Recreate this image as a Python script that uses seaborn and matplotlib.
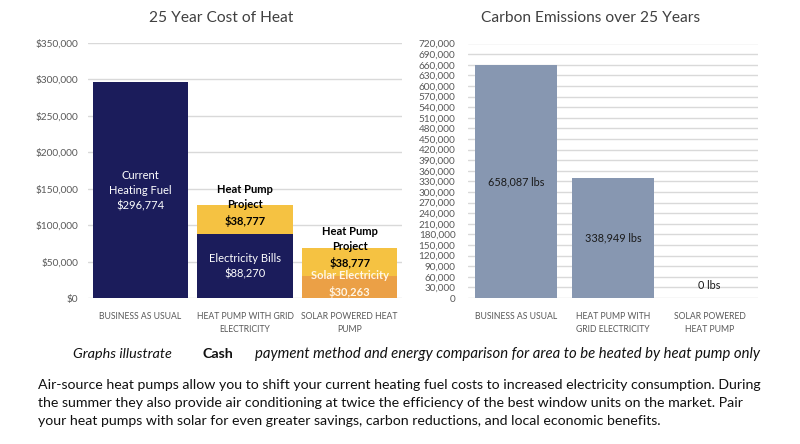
import matplotlib
matplotlib.use("Agg")
import matplotlib.pyplot as plt
import seaborn as sns
import pandas as pd
from matplotlib.ticker import FuncFormatter, MultipleLocator

sns.set_theme(style="white")
plt.rcParams['font.family'] = ['Lato', 'DejaVu Sans']

# ---- data ----
categories = ["Business as Usual", "Heat Pump with Grid Electricity", "Solar Powered Heat Pump"]
cost_labels_left = ["BUSINESS AS USUAL", "HEAT PUMP WITH GRID\nELECTRICITY", "SOLAR POWERED HEAT\nPUMP"]
cost_labels_right = ["BUSINESS AS USUAL", "HEAT PUMP WITH\nGRID ELECTRICITY", "SOLAR POWERED\nHEAT PUMP"]
heating_fuel = [296774, 0, 0]
electricity = [0, 88270, 30263]
heat_pump_project = [0, 38777, 38777]
emissions = [658087, 338949, 0]

NAVY = "#1B1C5B"
YELLOW = "#F5C242"
ORANGE = "#EBA046"
GRAY = "#8797B1"
GRID = "#D9D9D9"
TICK = "#595959"

fig = plt.figure(figsize=(8, 4.44), dpi=100)
fig.patch.set_facecolor("white")

H = 444.0
def ax_rect(x0, x1, ytop, ybot):
    return [x0 / 800, 1 - ybot / H, (x1 - x0) / 800, (ybot - ytop) / H]

# ---- left chart ----
axL = fig.add_axes(ax_rect(88, 402, 43, 298))
totals = [a + b + c for a, b, c in zip(heating_fuel, electricity, heat_pump_project)]
base = [a + b for a, b in zip(heating_fuel, electricity)]
dfL = pd.DataFrame({"cat": categories, "total": totals, "base": base})
sns.barplot(data=dfL, x="cat", y="total", hue="cat", palette=[NAVY, YELLOW, YELLOW],
            width=0.91, legend=False, ax=axL, saturation=1, linewidth=0)
sns.barplot(data=dfL, x="cat", y="base", hue="cat", palette=[NAVY, NAVY, ORANGE],
            width=0.91, legend=False, ax=axL, saturation=1, linewidth=0)
axL.set_ylim(0, 350000)
axL.yaxis.set_major_locator(MultipleLocator(50000))
axL.yaxis.set_major_formatter(FuncFormatter(lambda v, p: f"${v:,.0f}"))
axL.grid(axis="y", color=GRID, lw=1)
axL.set_axisbelow(True)
axL.set_xlabel(""); axL.set_ylabel("")
axL.set_xticks(range(3))
axL.set_xticklabels(cost_labels_left, fontsize=6.2, color=TICK, linespacing=1.6)
axL.tick_params(axis="y", labelsize=7.3, labelcolor=TICK, length=0, pad=7)
axL.tick_params(axis="x", length=0, pad=10)
for s in axL.spines.values():
    s.set_visible(False)
axL.set_xlim(-0.5, 2.5)
fig.text(221 / 800, 1 - 18 / H, "25 Year Cost of Heat", fontsize=11.2, color="#404040",
         ha="center", va="center")

axL.text(0, 147000, f"Current\nHeating Fuel\n${heating_fuel[0]:,}", ha="center", va="center",
         color="white", fontsize=8, linespacing=1.45)
axL.text(1, totals[1], f"Heat Pump\nProject\n${heat_pump_project[1]:,}", ha="center", va="center",
         color="black", fontsize=8, fontweight="bold", linespacing=1.45)
axL.text(1, electricity[1] / 2, f"Electricity Bills\n${electricity[1]:,}", ha="center", va="center",
         color="white", fontsize=8, linespacing=1.45)
axL.text(2, totals[2], f"Heat Pump\nProject\n${heat_pump_project[2]:,}", ha="center", va="center",
         color="black", fontsize=8, fontweight="bold", linespacing=1.45)
axL.text(2, 19000, f"Solar Electricity\n${electricity[2]:,}", ha="center", va="center",
         color="#FFF6E6", fontsize=8, fontweight="bold", linespacing=1.45)

# ---- right chart ----
axR = fig.add_axes(ax_rect(468, 758, 43.5, 298))
dfR = pd.DataFrame({"cat": categories, "em": emissions})
sns.barplot(data=dfR, x="cat", y="em", color=GRAY, width=0.85, ax=axR, saturation=1, linewidth=0)
axR.set_ylim(0, 720000)
axR.yaxis.set_major_locator(MultipleLocator(30000))
axR.yaxis.set_major_formatter(FuncFormatter(lambda v, p: f"{v:,.0f}"))
axR.grid(axis="y", color=GRID, lw=1)
axR.set_axisbelow(True)
axR.set_xlabel(""); axR.set_ylabel("")
axR.set_xticks(range(3))
axR.set_xticklabels(cost_labels_right, fontsize=6.2, color=TICK, linespacing=1.6)
axR.tick_params(axis="y", labelsize=7.2, labelcolor=TICK, length=0, pad=9)
axR.tick_params(axis="x", length=0, pad=10)
for s in axR.spines.values():
    s.set_visible(False)
axR.set_xlim(-0.5, 2.5)
fig.text(591 / 800, 1 - 18 / H, "Carbon Emissions over 25 Years", fontsize=11.2, color="#404040",
         ha="center", va="center")

for i, v in enumerate(emissions):
    y = v / 2 if v > 0 else 34000
    axR.text(i, y, f"{v:,} lbs", ha="center", va="center", color="#1a1a1a", fontsize=7.8)

# ---- footer text ----
fig.text(73 / 800, 1 - 354 / H, "Graphs illustrate", fontsize=10.4, style="italic",
         ha="left", va="center", color="#111111")
fig.text(203 / 800, 1 - 354 / H, "Cash", fontsize=10.2, fontweight="bold",
         ha="left", va="center", color="#111111")
fig.text(760 / 800, 1 - 354 / H,
         "payment method and energy comparison for area to be heated by heat pump only",
         fontsize=10.75, style="italic", ha="right", va="center", color="#111111")

para = ["Air-source heat pumps allow you to shift your current heating fuel costs to increased electricity consumption. During",
        "the summer they also provide air conditioning at twice the efficiency of the best window units on the market. Pair",
        "your heat pumps with solar for even greater savings, carbon reductions, and local economic benefits."]
for k, line in enumerate(para):
    fig.text(38 / 800, 1 - (385 + 18 * k) / H, line, fontsize=10.2, ha="left", va="center",
             color="#111111")

fig.savefig("out.png", dpi=100, facecolor="white")
